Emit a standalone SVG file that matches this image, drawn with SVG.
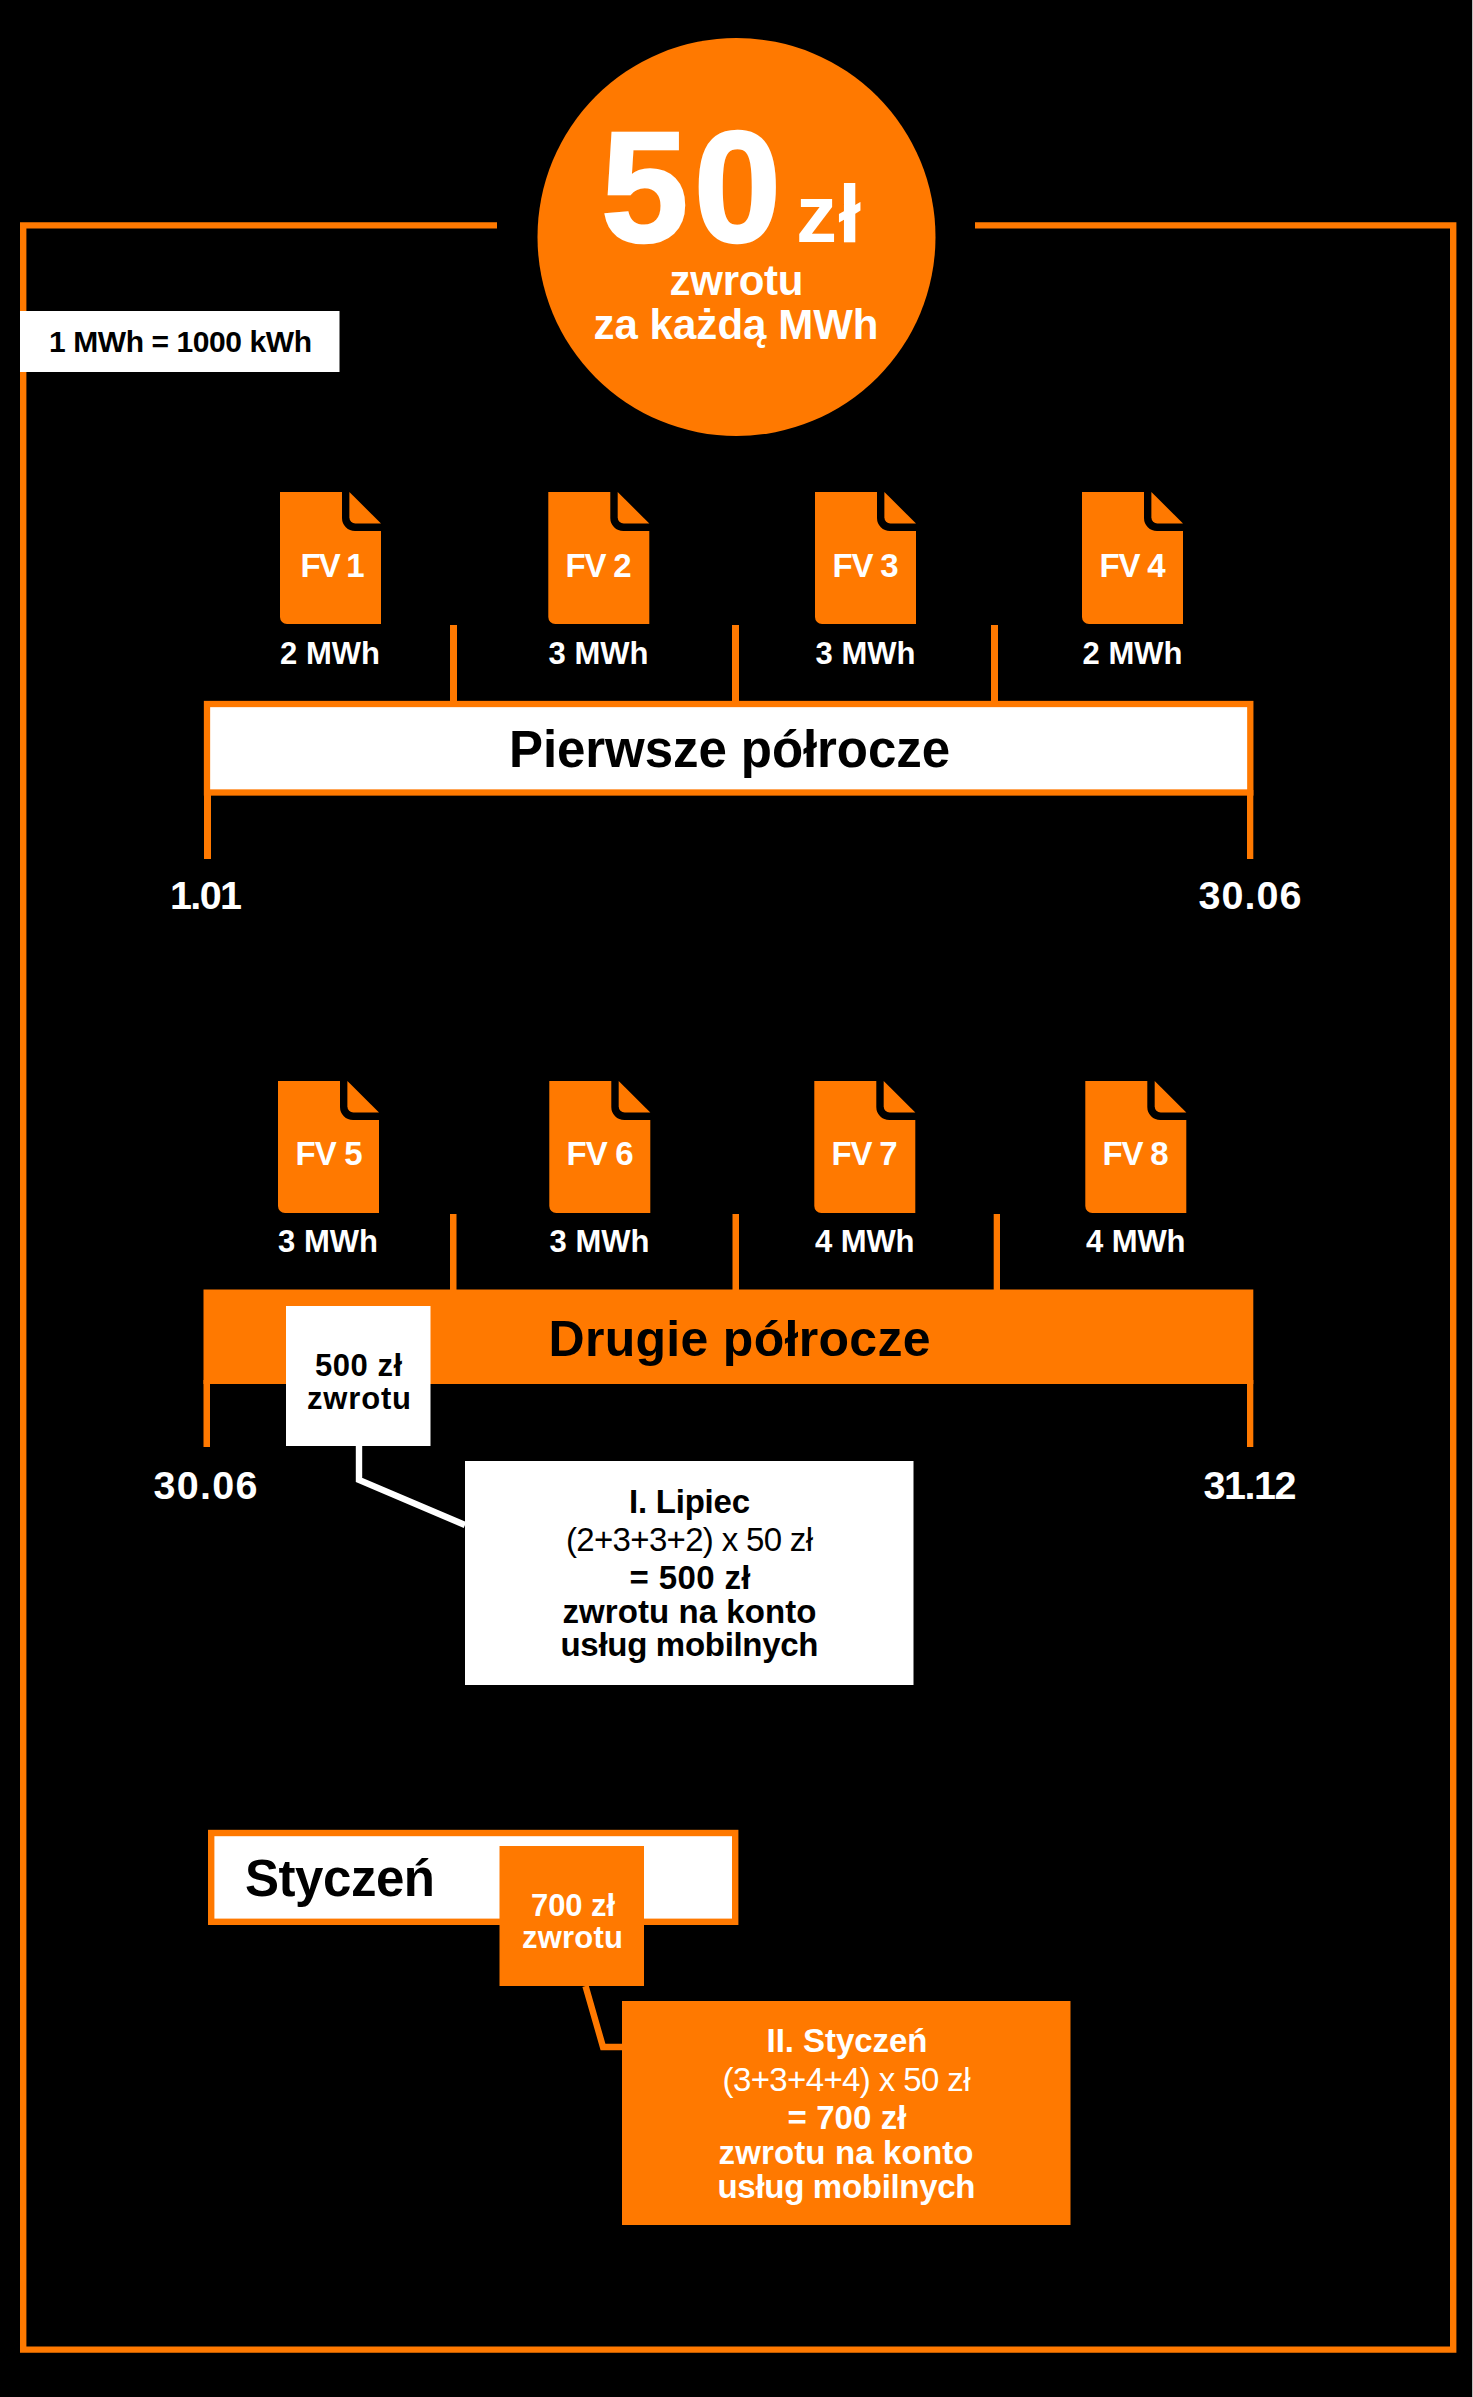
<svg xmlns="http://www.w3.org/2000/svg" xmlns:xlink="http://www.w3.org/1999/xlink" width="1473" height="2397" viewBox="0 0 1473 2397">
<style>
text{font-family:"Liberation Sans",Arial,sans-serif;font-weight:700}
.w{fill:#fff}.k{fill:#000}.r{font-weight:400}
.o{fill:#ff7900}.wb{fill:#fff}
.s31{font-size:31px}.s33{font-size:33px}.s40{font-size:39.5px}.s50{font-size:51px}
.c{fill:none;stroke-width:6.4;stroke-miterlimit:10}
</style>
<defs>
<g id="doc">
<path class="o" d="M0,0H62V26a13,13 0 0 0 13,13H101V132H7a7,7 0 0 1 -7,-7Z"/>
<path class="o" d="M69.4,0L101,31.5H75.4a6,6 0 0 1 -6,-6Z"/>
</g>
</defs>
<rect width="1473" height="2397" fill="#000"/>
<rect x="1472" width="1" height="2397" fill="#bdbdbd"/>
<g id="connectors">
<path class="c" stroke="#ff7900" d="M497,225.4H23.2V2349.6H1453.2V225.4H975"/>
<path class="c" stroke="#fff" d="M359,1446V1480L465,1525"/>
<path class="c" stroke="#ff7900" d="M585.5,1986L603,2047H622"/>
<g class="o">
<rect x="450" y="625" width="7" height="76"/>
<rect x="732" y="625" width="7" height="76"/>
<rect x="991" y="625" width="7" height="76"/>
<rect x="450" y="1214" width="6.5" height="76"/>
<rect x="732.5" y="1214" width="6.5" height="76"/>
<rect x="993.7" y="1214" width="6.3" height="76"/>
<rect x="204" y="790" width="7" height="69"/>
<rect x="1247" y="790" width="6.3" height="69"/>
<rect x="203.5" y="1380" width="6.5" height="67"/>
<rect x="1247" y="1380" width="6.3" height="67"/>
</g>
</g>
<g id="note-mwh">
<rect class="wb" x="20" y="311" width="319.5" height="61"/>
<text class="k" x="49" y="352" font-size="30" textLength="263">1 MWh = 1000 kWh</text>
</g>
<g id="badge">
<circle class="o" cx="736.5" cy="237" r="199"/>
<text class="w" x="601" y="241" font-size="157" textLength="180" stroke="#fff" stroke-width="2.5">50</text>
<text class="w" x="796" y="242" font-size="82" textLength="65">zł</text>
<text class="w" x="669.5" y="295" font-size="42" textLength="134">zwrotu</text>
<text class="w" x="593.5" y="339" font-size="42" textLength="285">za każdą MWh</text>
</g>
<g id="fv1"><use xlink:href="#doc" href="#doc" x="280" y="492"/>
<text class="w s33" x="300.5" y="577" textLength="64">FV 1</text>
<text class="w s31" x="280" y="664" textLength="100">2 MWh</text></g>
<g id="fv2"><use xlink:href="#doc" href="#doc" x="548.3" y="492"/>
<text class="w s33" x="565.5" y="577" textLength="66">FV 2</text>
<text class="w s31" x="548.5" y="664" textLength="100">3 MWh</text></g>
<g id="fv3"><use xlink:href="#doc" href="#doc" x="815" y="492"/>
<text class="w s33" x="832.5" y="577" textLength="66">FV 3</text>
<text class="w s31" x="815.5" y="664" textLength="100">3 MWh</text></g>
<g id="fv4"><use xlink:href="#doc" href="#doc" x="1082" y="492"/>
<text class="w s33" x="1099.5" y="577" textLength="66">FV 4</text>
<text class="w s31" x="1082.5" y="664" textLength="100">2 MWh</text></g>
<g id="h1">
<rect class="wb" x="207" y="704" width="1043.3" height="88.5" stroke="#ff7900" stroke-width="6.3"/>
<text class="k" x="509" y="767" font-size="51" textLength="441">Pierwsze półrocze</text>
<text class="w s40" x="170" y="909" textLength="72">1.01</text>
<text class="w s40" x="1198.5" y="909" textLength="103">30.06</text>
</g>
<g id="fv5"><use xlink:href="#doc" href="#doc" x="278" y="1081"/>
<text class="w s33" x="295.5" y="1165" textLength="67">FV 5</text>
<text class="w s31" x="278" y="1252" textLength="100">3 MWh</text></g>
<g id="fv6"><use xlink:href="#doc" href="#doc" x="549.3" y="1081"/>
<text class="w s33" x="566.5" y="1165" textLength="67">FV 6</text>
<text class="w s31" x="549.5" y="1252" textLength="100">3 MWh</text></g>
<g id="fv7"><use xlink:href="#doc" href="#doc" x="814.3" y="1081"/>
<text class="w s33" x="831.5" y="1165" textLength="66">FV 7</text>
<text class="w s31" x="815" y="1252" textLength="99.5">4 MWh</text></g>
<g id="fv8"><use xlink:href="#doc" href="#doc" x="1085.3" y="1081"/>
<text class="w s33" x="1102.5" y="1165" textLength="66">FV 8</text>
<text class="w s31" x="1086" y="1252" textLength="99.5">4 MWh</text></g>
<g id="h2">
<rect class="o" x="203.5" y="1289.5" width="1049.8" height="94.5"/>
<text class="k" x="548.5" y="1355.5" font-size="50" textLength="382">Drugie półrocze</text>
<text class="w s40" x="153.5" y="1498.5" textLength="104">30.06</text>
<text class="w s40" x="1203.5" y="1498.5" textLength="93">31.12</text>
</g>
<g id="refund-500">
<rect class="wb" x="286" y="1306" width="144.5" height="140"/>
<text class="k s31" x="315" y="1376" textLength="87">500 zł</text>
<text class="k s31" x="307" y="1408.5" textLength="104">zwrotu</text>
</g>
<g id="calc-1">
<rect class="wb" x="465" y="1461" width="448.5" height="224"/>
<text class="k s33" x="629" y="1513" textLength="121">I. Lipiec</text>
<text class="k s33 r" x="566" y="1551" textLength="247">(2+3+3+2) x 50 zł</text>
<text class="k s33" x="629.5" y="1589" textLength="121">= 500 zł</text>
<text class="k s33" x="562.5" y="1622.5" textLength="254">zwrotu na konto</text>
<text class="k s33" x="560.5" y="1656" textLength="258">usług mobilnych</text>
</g>
<g id="jan">
<rect class="wb" x="211.2" y="1833" width="524" height="88.8" stroke="#ff7900" stroke-width="6.4"/>
<text class="k" x="245" y="1896" font-size="51" textLength="190">Styczeń</text>
</g>
<g id="refund-700">
<rect class="o" x="499.5" y="1846" width="144.5" height="140"/>
<text class="w s31" x="531" y="1916" textLength="84">700 zł</text>
<text class="w s31" x="522" y="1948" textLength="101">zwrotu</text>
</g>
<g id="calc-2">
<rect class="o" x="622" y="2001" width="448.5" height="224"/>
<text class="w s33" x="766.5" y="2052" textLength="161">II. Styczeń</text>
<text class="w s33 r" x="722.5" y="2091" textLength="248">(3+3+4+4) x 50 zł</text>
<text class="w s33" x="787.5" y="2129" textLength="119">= 700 zł</text>
<text class="w s33" x="718.5" y="2163.5" textLength="255">zwrotu na konto</text>
<text class="w s33" x="717.5" y="2197.5" textLength="258">usług mobilnych</text>
</g>
</svg>
